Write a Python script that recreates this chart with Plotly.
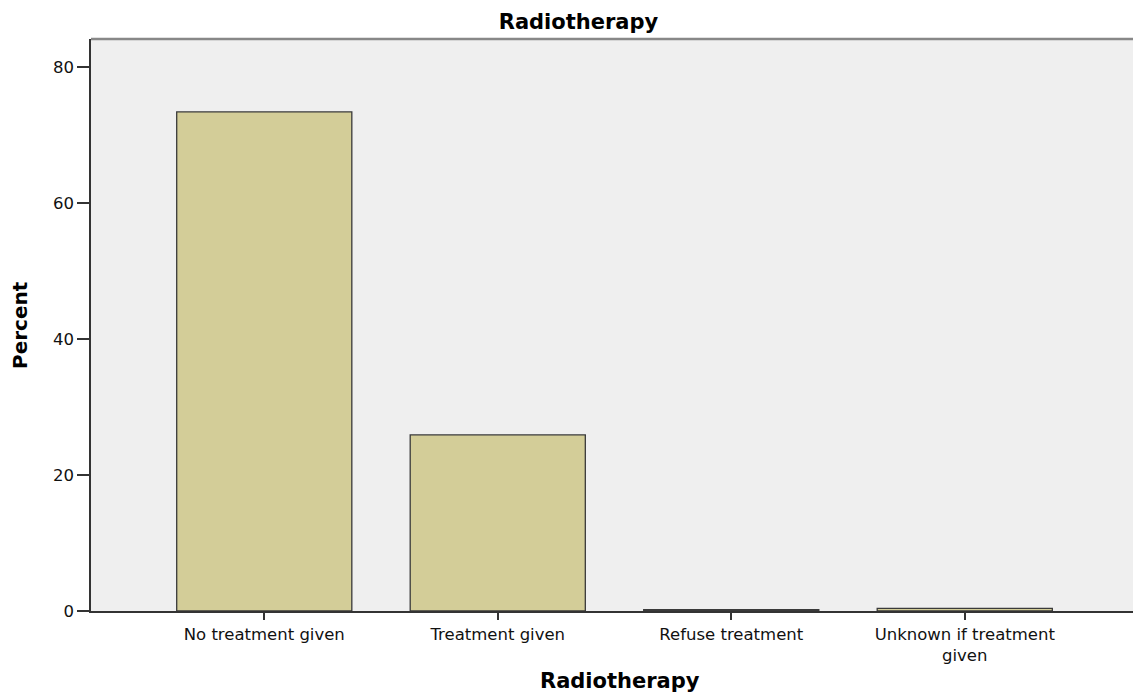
import plotly.graph_objects as go

categories = ["No treatment given", "Treatment given", "Refuse treatment", "Unknown if treatment<br>given"]
percent = [73.4, 25.9, 0.2, 0.4]
y_ticks = [0, 20, 40, 60, 80]

fig = go.Figure()
fig.add_trace(go.Bar(
    x=list(range(len(categories))), y=percent, width=0.75,
    marker=dict(color="#d3cd98", line=dict(color="#3a3a3a", width=1.3)),
))

font = "DejaVu Sans, Liberation Sans, Arial, sans-serif"
fig.update_layout(
    width=1141, height=698,
    margin=dict(l=83, r=0, t=31, b=95),
    paper_bgcolor="white", plot_bgcolor="#efefef",
    showlegend=False,
    title=dict(text="<b>Radiotherapy</b>", x=0.5, xanchor="center", y=0.98, yanchor="middle",
               font=dict(family=font, size=21, color="black")),
    font=dict(family=font, color="black"),
)
fig.update_xaxes(
    tickmode="array", tickvals=list(range(len(categories))), ticktext=categories,
    range=[-0.742, 3.789], showgrid=False, zeroline=False,
    showline=True, linecolor="#333333", linewidth=1.5,
    ticks="outside", ticklen=7, tickcolor="#333333", tickwidth=1.5,
    tickfont=dict(family=font, size=16.5, color="#111111"),
)
fig.update_yaxes(
    tickmode="array", tickvals=y_ticks, range=[0, 84.12],
    showgrid=False, zeroline=False,
    showline=True, linecolor="#333333", linewidth=1.5,
    ticks="outside", ticklen=12, tickcolor="#333333", tickwidth=1.5,
    tickfont=dict(family=font, size=16.5, color="#111111"),
)
fig.add_annotation(text="<b>Radiotherapy</b>", xref="paper", yref="paper", x=0.5, y=0,
                   xanchor="center", yanchor="middle", yshift=-70, showarrow=False,
                   font=dict(family=font, size=21, color="black"))
fig.add_annotation(text="<b>Percent</b>", xref="paper", yref="paper", x=0, y=0.5,
                   xanchor="center", yanchor="middle", xshift=-71, textangle=-90, showarrow=False,
                   font=dict(family=font, size=20, color="black"))
fig.add_shape(type="line", xref="paper", yref="paper", x0=0, x1=1, y0=1, y1=1,
              line=dict(color="#888888", width=2.5))
fig.write_html("out.html")
